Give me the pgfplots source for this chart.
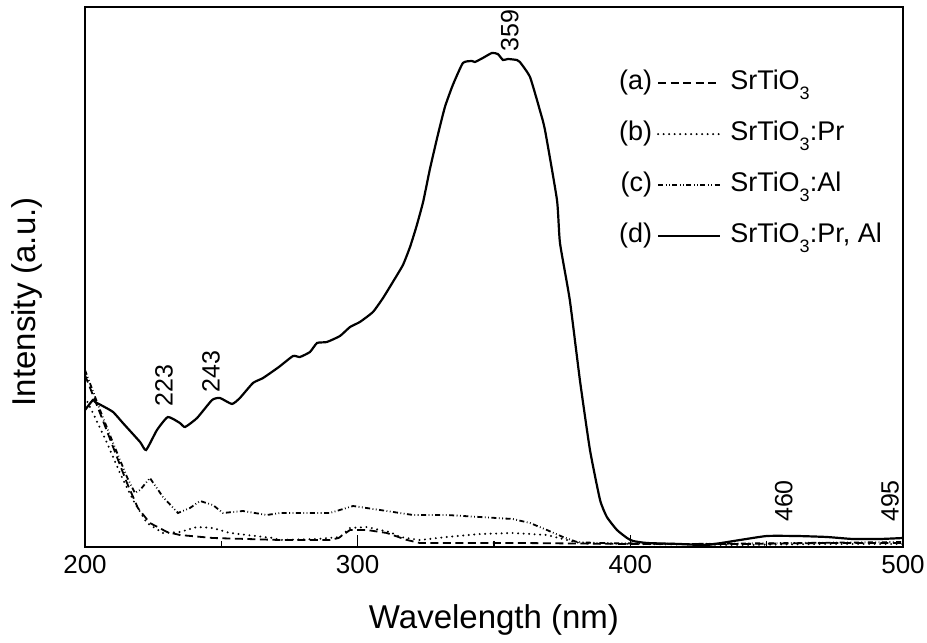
\documentclass[border=0pt]{standalone}
\usepackage{fontspec}
\setmainfont{Liberation Sans}
\usepackage{pgfplots}
\pgfplotsset{compat=1.18}

\newcommand{\sub}[1]{\raisebox{-10pt}{\fontsize{18}{18}\selectfont #1}}

\pgfplotsset{
  legtag/.style={legend image code/.code={%
    \node[anchor=east] at (-6pt,0pt) {(#1)};
    \draw[##1] (0pt,0pt) -- (62pt,0pt);}},
  sa/.style={black, line width=1.8pt, dash pattern=on 8pt off 4.5pt},
  sb/.style={black, line width=2.2pt, line cap=round, dash pattern=on 0pt off 5.5pt},
  sc/.style={black, line width=1.8pt, dash pattern=on 5pt off 2.5pt on 0.8pt off 2.5pt on 0.8pt off 2.5pt},
  sd/.style={black, line width=2.2pt},
}

\begin{document}
\begin{tikzpicture}
\path[use as bounding box] (-85pt,-96pt) rectangle (842pt,547pt);
\begin{axis}[
  width=818pt, height=540pt, scale only axis,
  xmin=200, xmax=500, ymin=0, ymax=540,
  xtick={200,300,400,500}, minor x tick num=1,
  ytick=\empty, xtick pos=left, tick align=inside,
  major tick length=12pt, minor tick length=6pt,
  tick style={black, line width=1.4pt},
  axis line style={line width=1.6pt},
  /pgf/number format/assume math mode=true,
  /pgf/number format/1000 sep={},
  xticklabel style={font=\fontsize{26}{30}\selectfont, yshift=-5pt},
  xlabel={Wavelength (nm)},
  ylabel={Intensity (a.u.)},
  xlabel style={at={(axis description cs:0.5,-0.135)}, anchor=center, font=\fontsize{33}{36}\selectfont},
  ylabel style={at={(axis description cs:-0.071,0.454)}, anchor=center, font=\fontsize{33}{36}\selectfont},
  legend cell align=left,
  legend style={at={(0.653,0.884)}, anchor=north west, draw=none, fill=none,
    inner sep=0pt, outer sep=0pt, row sep=24pt, column sep=9pt,
    nodes={font=\fontsize{27}{30}\selectfont, inner sep=0pt, text height=20pt, text depth=7pt}},
]

\addplot[sa, legtag=a] table {
200.0 172
205.5 134
210.3 100
215.4 64
219.4 39
223.8 24
230.1 15
234.8 12
246.9 9
259.4 8
271.5 7
289.8 7
293.0 9
297.2 17
303.4 17
310.7 14
318.1 7
322.8 4
360 4
400 3
440 3
470 4
500 4
};
\addlegendentry{SrTiO\sub{3}}

\addplot[sb, legtag=b] table {
200.0 150
202.9 134
208.1 104
212.8 74
217.6 47
222.7 24
228.6 14
234.8 15
241.1 20
246.9 19
253.2 14
259.4 12
268.9 9
271.5 7
285 8
293.5 10
297.2 19
303.4 20
308.2 17
311.8 15
315.5 10
322.8 7
332.7 10
344.8 13
356.9 14
369.4 12
376.7 7
381.5 4
400 3
440 2
470 3
500 3
};
\addlegendentry{SrTiO\sub{3}:Pr}

\addplot[sc, legtag=c] table {
200.0 177
205.5 137
210.3 104
215.4 70
218.3 54
220.2 57
223.8 69
228.6 50
234.1 34
238.5 39
242.2 46
246.9 42
250.6 34
257.9 36
266.7 32
271.5 34
283.6 34
289.8 34
298.3 41
308.2 37
320.3 32
332.7 32
344.8 30
356.9 28
363.2 24
369.4 17
375.3 10
380.4 5
387.7 4
420 3
460 4
500 5
};
\addlegendentry{SrTiO\sub{3}:Al}

\addplot[sd, smooth, tension=0.3, legtag=d] table {
200.0 137
202.9 147
203.7 145
206.5 141
210.3 135
213.9 124
220.2 105
222.4 97
226.4 117
230.4 130
234.8 124
236.7 120
241.1 129
246.6 147
249.5 149
253.9 143
256.8 149
261.6 164
265.3 169
271.1 180
276.3 191
278.8 190
282.5 195
285.1 204
288.7 205
293.5 211
297.2 220
300.8 225
305.6 235
309.3 249
312.9 265
316.6 282
319.2 300
321.5 320
324.0 345
326.5 378
329.4 412
332.0 440
334.9 462
338.6 484
341.9 486
343.0 485
345.9 489
349.2 494
351.4 493
353.3 487
355.1 488
358.4 487
359.5 485
363.2 470
366.8 437
368.7 417
373.1 347
374.2 304
377.8 247
381.5 167
385.2 97
388.9 47
391.4 30
395.1 17
398.8 9
401.0 6
406.1 4
418.2 3
428.1 2
440.2 7
450.1 11
461.1 11
472.1 10
481.6 8
491.5 8
500.0 9
};
\addlegendentry{SrTiO\sub{3}:Pr, Al}

\begin{scope}[every node/.style={rotate=90, anchor=west, inner sep=0pt, font=\fontsize{25}{28}\selectfont}]
\node at (axis cs:229.0,140) {223};
\node at (axis cs:246.2,154) {243};
\node at (axis cs:355.8,495) {359};
\node at (axis cs:456.3,25) {460};
\node at (axis cs:495.2,25) {495};
\end{scope}
\end{axis}
\end{tikzpicture}
\end{document}
